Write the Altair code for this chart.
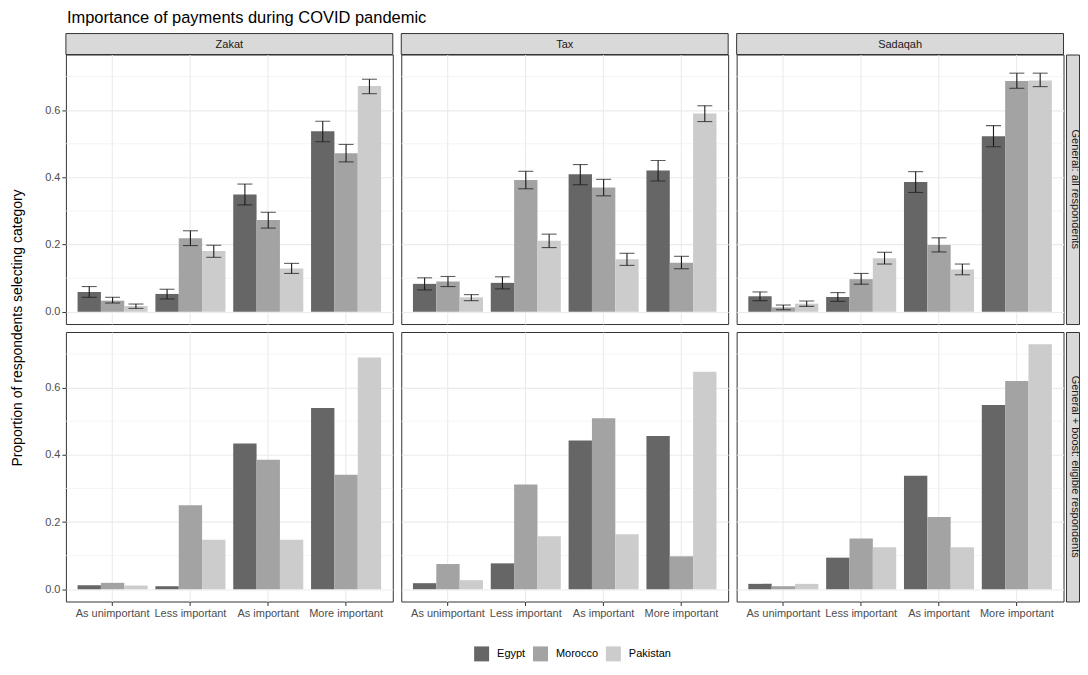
import altair as alt
import pandas as pd

payments = ["Zakat", "Tax", "Sadaqah"]
categories = ["As unimportant", "Less important", "As important", "More important"]
countries = ["Egypt", "Morocco", "Pakistan"]
samples = ["General: all respondents", "General + boost: eligible respondents"]
colors = ["#666666", "#a3a3a3", "#cccccc"]

# General sample: [category][country]
gen_zakat = [[0.059, 0.033, 0.017], [0.053, 0.219, 0.181], [0.349, 0.273, 0.129], [0.537, 0.472, 0.672]]
gen_zakat_lo = [[0.043, 0.026, 0.010], [0.038, 0.197, 0.162], [0.318, 0.249, 0.114], [0.506, 0.446, 0.649]]
gen_zakat_hi = [[0.075, 0.043, 0.023], [0.067, 0.241, 0.198], [0.380, 0.296, 0.144], [0.567, 0.498, 0.692]]

gen_tax = [[0.083, 0.090, 0.043], [0.086, 0.392, 0.211], [0.409, 0.370, 0.156], [0.420, 0.146, 0.590]]
gen_tax_lo = [[0.065, 0.075, 0.033], [0.068, 0.366, 0.191], [0.378, 0.345, 0.138], [0.389, 0.128, 0.566]]
gen_tax_hi = [[0.101, 0.105, 0.051], [0.104, 0.418, 0.231], [0.438, 0.394, 0.174], [0.450, 0.165, 0.613]]

gen_sadaqah = [[0.046, 0.013, 0.024], [0.044, 0.097, 0.159], [0.386, 0.199, 0.126], [0.522, 0.687, 0.688]]
gen_sadaqah_lo = [[0.033, 0.006, 0.016], [0.031, 0.082, 0.142], [0.355, 0.178, 0.110], [0.491, 0.665, 0.670]]
gen_sadaqah_hi = [[0.059, 0.020, 0.032], [0.057, 0.114, 0.177], [0.417, 0.220, 0.142], [0.554, 0.710, 0.710]]

# General + boost sample: [category][country]
boost_zakat = [[0.012, 0.019, 0.011], [0.009, 0.250, 0.147], [0.434, 0.385, 0.147], [0.539, 0.341, 0.690]]
boost_tax = [[0.018, 0.075, 0.027], [0.077, 0.312, 0.158], [0.443, 0.509, 0.164], [0.456, 0.098, 0.647]]
boost_sadaqah = [[0.016, 0.009, 0.016], [0.094, 0.151, 0.125], [0.338, 0.215, 0.125], [0.548, 0.620, 0.729]]

minor_ticks = [0.1, 0.3, 0.5, 0.7]
major_ticks = [0.0, 0.2, 0.4, 0.6]

gen = {"Zakat": (gen_zakat, gen_zakat_lo, gen_zakat_hi),
       "Tax": (gen_tax, gen_tax_lo, gen_tax_hi),
       "Sadaqah": (gen_sadaqah, gen_sadaqah_lo, gen_sadaqah_hi)}
boost = {"Zakat": boost_zakat, "Tax": boost_tax, "Sadaqah": boost_sadaqah}

rows = []
for p in payments:
    v, lo, hi = gen[p]
    for i, c in enumerate(categories):
        for k, cn in enumerate(countries):
            rows.append(dict(sample=samples[0], payment=p, category=c, country=cn,
                             value=v[i][k], lo=lo[i][k], hi=hi[i][k]))
    for i, c in enumerate(categories):
        for k, cn in enumerate(countries):
            rows.append(dict(sample=samples[1], payment=p, category=c, country=cn,
                             value=boost[p][i][k], lo=None, hi=None))
df = pd.DataFrame(rows)
minor_df = pd.DataFrame({"v": minor_ticks})

W, H, GAP, SH = 327.5, 270, 6, 21
FONT = "Liberation Sans"
yscale = alt.Scale(domain=[-0.0365, 0.7655], nice=False, zero=False)
xscale = alt.Scale(domain=categories, paddingInner=0.1, paddingOuter=0.15)
oscale = alt.Scale(domain=countries, paddingInner=0, paddingOuter=0)
cscale = alt.Scale(domain=countries, range=colors)


def panel(sample, payment, first_col, bottom_row, with_err):
    d = df[(df["sample"] == sample) & (df["payment"] == payment)]
    xaxis = alt.Axis(title=None, bandPosition=0.5, domain=False, grid=True,
                     gridColor="#ebebeb", gridWidth=1.1,
                     labels=bottom_row, ticks=bottom_row, tickSize=4,
                     tickColor="#333333", labelColor="#4d4d4d", labelFontSize=11,
                     labelPadding=2, labelAngle=0, labelFont=FONT)
    yaxis = alt.Axis(title=None, values=major_ticks, format=".1f", domain=False, grid=True,
                     gridColor="#ebebeb", gridWidth=1.1,
                     labels=first_col, ticks=first_col, tickSize=4, tickColor="#333333",
                     labelColor="#4d4d4d", labelFontSize=11, labelPadding=2, labelFont=FONT)

    X = alt.X("category:N", sort=categories, scale=xscale, axis=xaxis)
    XO = alt.XOffset("country:N", sort=countries, scale=oscale)

    minor = alt.Chart(minor_df).mark_rule(color="#f0f0f0", strokeWidth=0.7).encode(
        y=alt.Y("v:Q", scale=yscale, axis=yaxis))
    bars = alt.Chart(d).mark_bar().encode(
        x=X, xOffset=XO,
        y=alt.Y("value:Q", scale=yscale, axis=yaxis),
        color=alt.Color("country:N", scale=cscale, sort=countries,
                        legend=alt.Legend(title=None, orient="none", direction="horizontal",
                                          legendX=466, legendY=593, symbolType="square",
                                          symbolSize=225, symbolStrokeWidth=0,
                                          labelFontSize=11, labelFont=FONT,
                                          labelColor="#000000", labelOffset=8,
                                          columnPadding=7)))
    layers = [minor, bars]
    if with_err:
        e = d.dropna(subset=["lo", "hi"])
        rule = alt.Chart(e).mark_rule(color="#1a1a1a", strokeWidth=1.1).encode(
            x=X, xOffset=XO, y=alt.Y("lo:Q", scale=yscale, axis=yaxis), y2="hi:Q")
        cap_lo = alt.Chart(e).mark_tick(color="#1a1a1a", thickness=1.1, size=15,
                                        orient="horizontal").encode(
            x=X, xOffset=XO, y=alt.Y("lo:Q", scale=yscale, axis=yaxis))
        cap_hi = alt.Chart(e).mark_tick(color="#1a1a1a", thickness=1.1, size=15,
                                        orient="horizontal").encode(
            x=X, xOffset=XO, y=alt.Y("hi:Q", scale=yscale, axis=yaxis))
        layers += [rule, cap_lo, cap_hi]
    if not bottom_row:
        lab = pd.DataFrame({"t": [payment]})
        strip_bg = alt.Chart(lab).mark_rect(fill="#d9d9d9", stroke="#333333",
                                            strokeWidth=1).encode(
            x=alt.value(0), x2=alt.value(W), y=alt.value(-SH), y2=alt.value(0))
        strip_tx = alt.Chart(lab).mark_text(
            fontSize=11, font=FONT, color="#1a1a1a", baseline="middle", align="center").encode(
            x=alt.value(W / 2), y=alt.value(-SH / 2 + 0.5), text="t:N")
        layers += [strip_bg, strip_tx]
    return alt.layer(*layers).properties(
        width=W, height=H,
        view=alt.ViewBackground(stroke="#333333", strokeWidth=1, fill="#ffffff"))


def right_strip(label):
    return alt.Chart(pd.DataFrame({"t": [label]})).mark_text(
        fontSize=11, font=FONT, color="#1a1a1a", baseline="middle", align="center",
        angle=90, clip=True).encode(
        x=alt.value(9), y=alt.value(H / 2), text="t:N").properties(
        width=13, height=H,
        view=alt.ViewBackground(fill="#d9d9d9", stroke="#333333", strokeWidth=1))


top_panels = [panel(samples[0], p, i == 0, False, True) for i, p in enumerate(payments)]
bot_panels = [panel(samples[1], p, i == 0, True, False) for i, p in enumerate(payments)]

top_row = alt.hconcat(top_panels[0], top_panels[1],
                      alt.hconcat(top_panels[2], right_strip(samples[0]), spacing=0),
                      spacing=GAP)
bot_row = alt.hconcat(bot_panels[0], bot_panels[1],
                      alt.hconcat(bot_panels[2], right_strip(samples[1]), spacing=0),
                      spacing=GAP)
grid = alt.vconcat(top_row, bot_row, spacing=6)

ytitle = alt.Chart(pd.DataFrame({"t": ["Proportion of respondents selecting category"]})).mark_text(
    fontSize=14, font=FONT, color="#000000", baseline="middle", align="center",
    angle=270).encode(
    x=alt.value(9), y=alt.value(H + 4), text="t:N").properties(
    width=16, height=2 * H + 8, view=alt.ViewBackground(stroke="transparent", fill="transparent"))

chart = alt.hconcat(ytitle, grid, spacing=18).properties(
    title=alt.Title("Importance of payments during COVID pandemic", anchor="start",
                    frame="group", fontSize=16.5, fontWeight="normal", font=FONT,
                    color="#000000", offset=6.5, dx=58),
    padding={"left": 0, "top": 1, "right": 0, "bottom": 0},
).configure(font=FONT, background="#ffffff").configure_view(stroke="#333333")

chart.save("out.html", embed_options={"renderer": "svg", "actions": False})
